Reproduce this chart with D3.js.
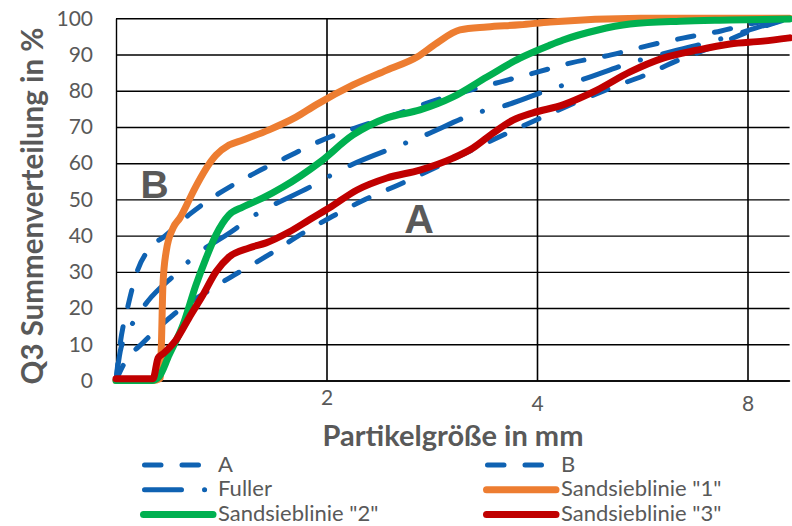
<!DOCTYPE html>
<html>
<head>
<meta charset="utf-8">
<script src="https://cdn.jsdelivr.net/npm/d3@7"></script>
<style>
  body { margin: 0; background: #fff; }
  svg { display: block; }
</style>
</head>
<body>
<div id="chart"></div>
<script>
// Data. x is the sieve step (gridline 1 = 2 mm, 2 = 4 mm, 3 = 8 mm).
const seriesNames = ["A", "B", "Fuller", 'Sandsieblinie "1"', 'Sandsieblinie "2"', 'Sandsieblinie "3"'];
const xTickValues = [1, 2, 3];
const xTickLabels = ["2", "4", "8"];
const yTickValues = [0, 10, 20, 30, 40, 50, 60, 70, 80, 90, 100];

const kurveA = [[0, 0], [0.043, 5.1], [0.128, 10.4], [0.271, 18.1], [0.437, 24.7], [0.561, 29.1],
  [0.717, 34.4], [0.874, 40.2], [1.031, 45.4], [1.188, 50.1], [1.349, 54.2], [1.672, 63.1],
  [1.848, 68.0], [2.014, 72.4], [2.361, 81.0], [2.513, 84.3], [2.67, 88.4], [2.831, 92.0],
  [2.988, 95.9], [3.2, 100]];
const kurveB = [[0, 0], [0.019, 9.8], [0.057, 20.6], [0.1, 30], [0.162, 36.6], [0.233, 39.9],
  [0.352, 46], [0.485, 51.5], [0.641, 56.7], [0.803, 61.4], [0.969, 66.1], [1.135, 69.7],
  [1.306, 73], [1.477, 76.6], [1.824, 82.4], [2.005, 85.2], [2.162, 87.7], [2.352, 89.9],
  [2.523, 92.4], [2.698, 94.6], [2.874, 96.5], [3.01, 98.4], [3.2, 100]];
const fuller = [[0, 0], [0.02, 8], [0.05, 12.5], [0.1, 17.8], [0.15, 21.8], [0.295, 30],
  [0.366, 34], [0.546, 41], [0.632, 44.6], [0.95, 54.3], [1.05, 57.6], [1.373, 65.5],
  [1.458, 67.5], [1.739, 74.3], [1.824, 75.5], [2.095, 81], [2.195, 82.7], [2.456, 87.9],
  [2.561, 89.6], [2.855, 94], [3.107, 98.5], [3.2, 100]];
const sand1 = [[0, 0], [0.174, 0], [0.209, 0.5], [0.216, 10.6], [0.223, 26.4], [0.238, 35.5],
  [0.271, 42.1], [0.304, 44.9], [0.352, 50.4], [0.371, 52.6], [0.475, 62.2], [0.537, 65],
  [0.603, 66.4], [0.727, 69.2], [0.855, 72.7], [0.95, 76.1], [1.126, 81.6], [1.287, 85.7],
  [1.43, 89.3], [1.525, 93.2], [1.634, 96.8], [1.762, 97.6], [1.919, 98.2], [2.062, 99],
  [2.49, 100], [3.2, 100]];
const sand2 = [[0, 0], [0.171, 0], [0.204, 1], [0.252, 7], [0.318, 15.3], [0.38, 26.4],
  [0.428, 33.8], [0.475, 40.2], [0.537, 45.7], [0.603, 47.9], [0.698, 50.4], [0.793, 53.4],
  [0.969, 60.3], [1.126, 67.8], [1.287, 72.5], [1.444, 74.7], [1.601, 78.3], [1.762, 83.8],
  [1.919, 89.0], [2.062, 92.6], [2.124, 94], [2.285, 96.7], [2.442, 98.4], [2.679, 99.2],
  [2.917, 99.5], [3.2, 99.8]];
const sand3 = [[0, 0.5], [0.176, 0.5], [0.2, 6.2], [0.228, 7.6], [0.285, 11.2], [0.347, 17.3],
  [0.413, 23.6], [0.475, 30.0], [0.537, 34.1], [0.632, 36.6], [0.713, 38.0], [0.822, 41.0],
  [0.917, 44.3], [1.012, 47.6], [1.145, 52.6], [1.287, 55.9], [1.444, 58.1], [1.601, 61.4],
  [1.696, 64.2], [1.791, 68.3], [1.886, 71.9], [1.981, 73.9], [2.124, 76.1], [2.204, 78.0],
  [2.285, 80.2], [2.442, 85.2], [2.599, 89.0], [2.76, 91.2], [2.917, 92.9], [3.074, 93.7],
  [3.2, 94.6]];

const seriesValues = [kurveA, kurveB, fuller, sand1, sand2, sand3];

// Styles per series
const blue = "#0f62b2";
const seriesStyle = [
  { color: blue, width: 5, dash: "16.5,21" },
  { color: blue, width: 5, dash: "16.5,21" },
  { color: blue, width: 5, dash: "37,23,0.1,23" },
  { color: "#ed7d31", width: 7, dash: null },
  { color: "#00b050", width: 7, dash: null },
  { color: "#c00000", width: 7, dash: null }
];

const width = 792;
const height = 526;
const marginLeft = 116;
const plotRight = 789.6;
const plotTop = 18.3;
const plotBottom = 380.5;
const textGray = "#595959";
const labelFont = "Lato, 'Open Sans', sans-serif";

const x = d3.scaleLinear().domain([0, 3.2]).range([marginLeft, plotRight]);
const y = d3.scaleLinear().domain([0, 100]).range([plotBottom, plotTop]);

const svg = d3.select("#chart").append("svg")
    .attr("width", width)
    .attr("height", height);

// Horizontal gridlines + y labels
const yAxis = svg.append("g")
    .attr("transform", `translate(${marginLeft},0)`)
    .call(d3.axisLeft(y).tickValues(yTickValues)
      .tickSize(-(plotRight - marginLeft)).tickSizeOuter(0).tickPadding(23));
yAxis.selectAll(".tick line").attr("stroke", "#000").attr("stroke-width", 1.4);
yAxis.select(".domain").attr("stroke", "#000").attr("stroke-width", 1.4);
yAxis.selectAll(".tick text")
    .attr("fill", textGray)
    .style("font-family", labelFont)
    .style("font-size", "21px");

// Vertical gridlines + x labels
const xAxis = svg.append("g")
    .attr("transform", `translate(0,${plotBottom})`)
    .call(d3.axisBottom(x).tickValues(xTickValues)
      .tickFormat((d, i) => xTickLabels[i])
      .tickSize(-(plotBottom - plotTop)).tickSizeOuter(0).tickPadding(16));
xAxis.selectAll(".tick line").attr("stroke", "#000").attr("stroke-width", 1.6);
xAxis.select(".domain").attr("stroke", "#000").attr("stroke-width", 1.6);
xAxis.selectAll(".tick text")
    .attr("fill", textGray)
    .style("font-family", labelFont)
    .style("font-size", "21px");
// the "2" label sits a little higher in the original
xAxis.selectAll(".tick text").filter(d => d === 1).attr("y", 10);

// Curves
const line = d3.line()
    .x(d => x(d[0]))
    .y(d => y(d[1]))
    .curve(d3.curveMonotoneX);

svg.append("g")
  .selectAll("path")
  .data(seriesValues)
  .join("path")
    .attr("d", line)
    .attr("fill", "none")
    .attr("stroke", (d, i) => seriesStyle[i].color)
    .attr("stroke-width", (d, i) => seriesStyle[i].width)
    .attr("stroke-dasharray", (d, i) => seriesStyle[i].dash)
    .attr("stroke-linecap", "round")
    .attr("stroke-linejoin", "round");

// Big curve labels
svg.append("text")
    .attr("x", 154.5).attr("y", 198)
    .attr("text-anchor", "middle")
    .attr("fill", textGray)
    .style("font-family", "'Liberation Sans', Arial, sans-serif")
    .style("font-weight", "bold")
    .style("font-size", "39px")
    .text("B");
svg.append("text")
    .attr("x", 419).attr("y", 233)
    .attr("text-anchor", "middle")
    .attr("fill", textGray)
    .style("font-family", "'Liberation Sans', Arial, sans-serif")
    .style("font-weight", "bold")
    .style("font-size", "41px")
    .text("A");

// Axis titles
svg.append("text")
    .attr("transform", "translate(43,206) rotate(-90)")
    .attr("text-anchor", "middle")
    .attr("fill", textGray)
    .style("font-family", labelFont)
    .style("font-weight", "bold")
    .style("font-size", "29.5px")
    .text("Q3 Summenverteilung in %");
svg.append("text")
    .attr("x", 453).attr("y", 446)
    .attr("text-anchor", "middle")
    .attr("fill", textGray)
    .style("font-family", labelFont)
    .style("font-weight", "bold")
    .style("font-size", "29px")
    .text("Partikelgröße in mm");

// Legend: 2 columns, 3 rows
const legend = svg.append("g")
  .selectAll("g")
  .data(seriesNames)
  .join("g")
    .attr("transform", (d, i) => `translate(${i % 2 === 0 ? 140 : 483},${465 + Math.floor(i / 2) * 24.7})`);

legend.append("line")
    .attr("x1", (d, i) => i < 3 ? 4.5 : 3.5)
    .attr("x2", (d, i) => i < 2 ? 62 : i === 2 ? 66 : 73)
    .attr("stroke", (d, i) => seriesStyle[i].color)
    .attr("stroke-width", (d, i) => seriesStyle[i].width)
    .attr("stroke-dasharray", (d, i) => seriesStyle[i].dash)
    .attr("stroke-linecap", "round");

legend.append("text")
    .attr("x", 78)
    .attr("dy", "0.3em")
    .attr("fill", textGray)
    .style("font-family", labelFont)
    .style("font-size", "22px")
    .text(d => d);
</script>
</body>
</html>
